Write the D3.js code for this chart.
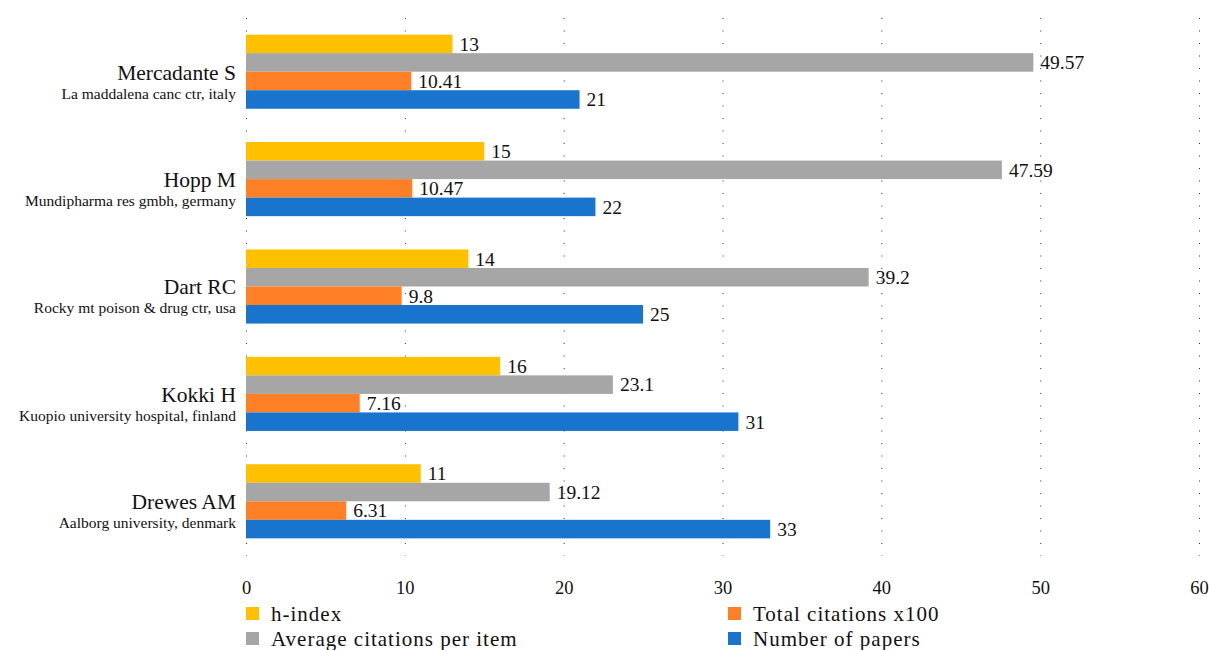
<!DOCTYPE html>
<html>
<head>
<meta charset="utf-8">
<script src="https://cdn.jsdelivr.net/npm/d3@7"></script>
<style>
  body { margin: 0; background: #fff; }
  text { font-family: 'Liberation Serif', 'DejaVu Serif', serif; fill: #111; }
</style>
</head>
<body>
<script>
const width = 1209;
const height = 650;

// Authors and affiliations (top to bottom)
const authors = ['Mercadante S', 'Hopp M', 'Dart RC', 'Kokki H', 'Drewes AM'];
const affiliations = [
  'La maddalena canc ctr, italy',
  'Mundipharma res gmbh, germany',
  'Rocky mt poison & drug ctr, usa',
  'Kuopio university hospital, finland',
  'Aalborg university, denmark',
];

// Series values, in author order
const hIndex = [13, 15, 14, 16, 11];
const avgCitations = [49.57, 47.59, 39.2, 23.1, 19.12];
const totalCitations = [10.41, 10.47, 9.8, 7.16, 6.31];
const papers = [21, 22, 25, 31, 33];

const seriesNames = ['h-index', 'Average citations per item', 'Total citations x100', 'Number of papers'];
const seriesColors = ['#ffc000', '#a6a6a6', '#ff7f27', '#1874cd'];
const seriesValues = [hIndex, avgCitations, totalCitations, papers];

const xTicks = [0, 10, 20, 30, 40, 50, 60];

const svg = d3.select('body')
  .append('svg')
  .attr('width', width)
  .attr('height', height);

const x = d3.scaleLinear().domain([0, 60]).range([246, 1199]);

const y = d3.scaleBand()
  .domain(authors)
  .range([18, 555])
  .paddingInner(0.31)
  .paddingOuter(0.155);

const ySeries = d3.scaleBand()
  .domain(seriesNames)
  .range([0, y.bandwidth()]);

// Dotted gridlines (including the zero line)
svg.append('g')
  .selectAll('line')
  .data(xTicks)
  .enter()
  .append('line')
  .attr('x1', (d) => x(d) + 0.5)
  .attr('x2', (d) => x(d) + 0.5)
  .attr('y1', 18)
  .attr('y2', 556)
  .attr('stroke', '#333')
  .attr('stroke-width', 1)
  .attr('stroke-dasharray', '1,11.5');

// Bars
const groups = svg.append('g')
  .selectAll('g')
  .data(authors)
  .enter()
  .append('g')
  .attr('transform', (d) => `translate(0, ${y(d)})`);

seriesNames.forEach((name, si) => {
  groups.append('rect')
    .attr('x', x(0))
    .attr('y', ySeries(name))
    .attr('width', (d, i) => x(seriesValues[si][i]) - x(0))
    .attr('height', ySeries.bandwidth())
    .attr('fill', seriesColors[si]);

  groups.append('text')
    .attr('x', (d, i) => x(seriesValues[si][i]) + 7)
    .attr('y', ySeries(name) + ySeries.bandwidth() / 2)
    .attr('dy', '0.35em')
    .style('font-size', '19.5px')
    .text((d, i) => seriesValues[si][i]);
});

// Author labels
groups.append('text')
  .attr('x', 236)
  .attr('y', y.bandwidth() / 2 + 8)
  .attr('text-anchor', 'end')
  .style('font-size', '21.5px')
  .text((d) => d);

groups.append('text')
  .attr('x', 236)
  .attr('y', y.bandwidth() / 2 + 27)
  .attr('text-anchor', 'end')
  .style('font-size', '15.5px')
  .text((d, i) => affiliations[i]);

// X axis labels
const xAxis = svg.append('g')
  .attr('transform', 'translate(0, 575)')
  .call(d3.axisBottom(x).tickValues(xTicks).tickSize(0).tickPadding(6));
xAxis.select('.domain').remove();
xAxis.selectAll('text')
  .style('font-size', '18.5px')
  .style('font-family', "'Liberation Serif', 'DejaVu Serif', serif")
  .attr('fill', '#111');

// Legend
const legendPos = [
  { x: 246, y: 613 },
  { x: 728, y: 613 },
  { x: 246, y: 638 },
  { x: 728, y: 638 },
];
const legendOrder = [0, 2, 1, 3];

const legend = svg.append('g')
  .selectAll('g')
  .data(legendOrder)
  .enter()
  .append('g')
  .attr('transform', (d, i) => `translate(${legendPos[i].x}, ${legendPos[i].y})`);

legend.append('rect')
  .attr('x', 0)
  .attr('y', -6)
  .attr('width', 13)
  .attr('height', 13)
  .attr('fill', (d) => seriesColors[d]);

legend.append('text')
  .attr('x', 25)
  .attr('y', 1)
  .attr('dy', '0.35em')
  .style('font-size', '21px')
  .style('letter-spacing', '1px')
  .text((d) => seriesNames[d]);
</script>
</body>
</html>
